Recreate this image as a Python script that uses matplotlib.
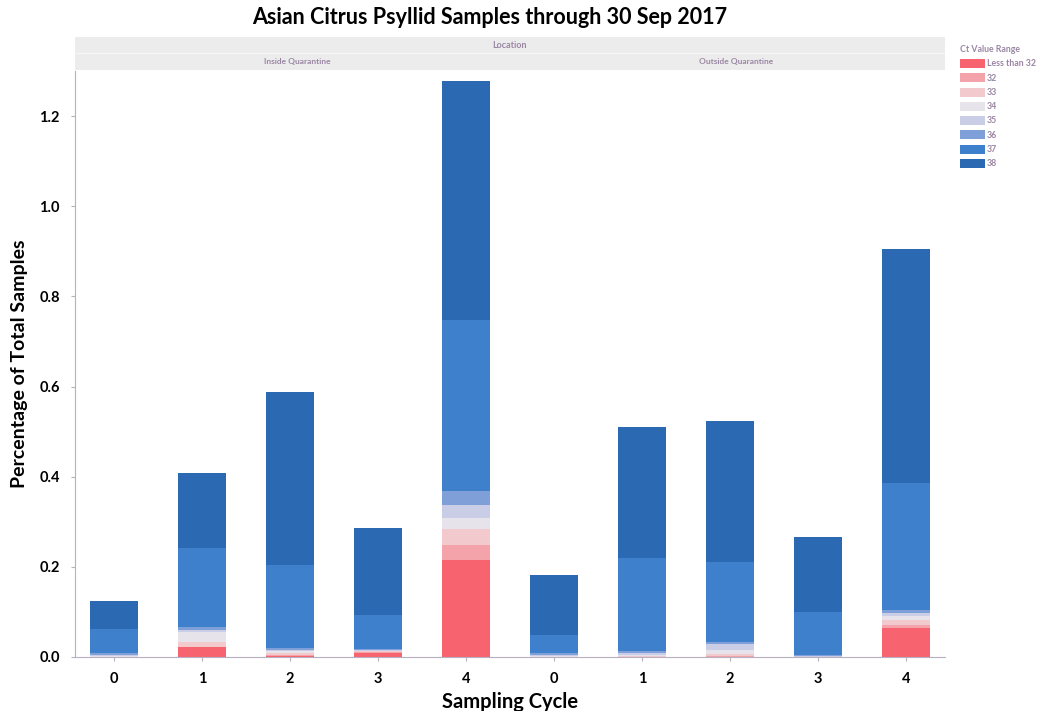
import matplotlib
matplotlib.use('Agg')
import matplotlib.pyplot as plt
from matplotlib.patches import Patch
import numpy as np

plt.rcParams['font.family'] = ['Lato', 'DejaVu Sans']

# sampling cycles, inside quarantine then outside quarantine
cycles = ['0', '1', '2', '3', '4', '0', '1', '2', '3', '4']
locations = ['Inside Quarantine', 'Outside Quarantine']
ct_ranges = ['Less than 32', '32', '33', '34', '35', '36', '37', '38']

# percentage of total samples for each Ct range (bottom to top)
ct_lt32 = [0.000, 0.022, 0.002, 0.008, 0.215, 0.000, 0.000, 0.000, 0.000, 0.064]
ct_32 = [0.000, 0.000, 0.003, 0.003, 0.033, 0.000, 0.000, 0.002, 0.000, 0.008]
ct_33 = [0.000, 0.012, 0.004, 0.002, 0.035, 0.000, 0.002, 0.004, 0.000, 0.010]
ct_34 = [0.002, 0.022, 0.004, 0.001, 0.025, 0.002, 0.003, 0.010, 0.001, 0.008]
ct_35 = [0.003, 0.004, 0.003, 0.001, 0.030, 0.002, 0.004, 0.012, 0.001, 0.007]
ct_36 = [0.003, 0.006, 0.004, 0.002, 0.030, 0.005, 0.005, 0.005, 0.002, 0.007]
ct_37 = [0.055, 0.176, 0.184, 0.076, 0.380, 0.040, 0.206, 0.178, 0.096, 0.282]
ct_38 = [0.061, 0.166, 0.384, 0.193, 0.530, 0.133, 0.290, 0.313, 0.166, 0.519]

series = [ct_lt32, ct_32, ct_33, ct_34, ct_35, ct_36, ct_37, ct_38]
colors = ['#F7636F', '#F3A3A9', '#F2CACE', '#E7E3EA', '#C9CDE5',
          '#7F9FD9', '#3F80CD', '#2B69B3']

fig = plt.figure(figsize=(10.38, 7.11), dpi=100)
ax = fig.add_axes([0.0723, 0.076, 0.838, 0.824])

x = np.arange(len(cycles))
bottom = np.zeros(len(cycles))
for vals, c in zip(series, colors):
    ax.bar(x, vals, 0.545, bottom=bottom, color=c, edgecolor='none')
    bottom += np.array(vals)

ax.set_xlim(-0.443, 9.44)
ax.set_ylim(0, 1.3)
ax.set_yticks([0.0, 0.2, 0.4, 0.6, 0.8, 1.0, 1.2])
ax.set_yticklabels(['0.0', '0.2', '0.4', '0.6', '0.8', '1.0', '1.2'],
                   fontweight='bold', fontsize=10.5)
ax.set_xticks(x)
ax.set_xticklabels(cycles, fontweight='bold', fontsize=10.5)
ax.tick_params(axis='both', length=3, color='#b8b0c0', pad=8)
for s in ['top', 'right']:
    ax.spines[s].set_visible(False)
for s in ['left', 'bottom']:
    ax.spines[s].set_color('#b8b0c0')
ax.set_ylabel('Percentage of Total Samples', fontweight='bold', fontsize=14,
              labelpad=8)
ax.set_xlabel('Sampling Cycle', fontweight='bold', fontsize=14.5, labelpad=4)

fig.suptitle('Asian Citrus Psyllid Samples through 30 Sep 2017',
             x=0.472, y=0.99, fontweight='bold', fontsize=15.5)

# facet header band
hdr = fig.add_axes([0.0723, 0.902, 0.838, 0.046])
hdr.set_facecolor('#ECECEC')
hdr.set_xticks([])
hdr.set_yticks([])
for s in hdr.spines.values():
    s.set_visible(False)
hdr.set_xlim(0, 1)
hdr.set_ylim(0, 1)
lab_col = '#9a86a4'
hdr.axhline(0.5, color='#f6f6f6', lw=1.0)
hdr.text(0.5, 0.75, 'Location', ha='center', va='center', fontsize=6.5,
         color=lab_col, fontweight='bold')
hdr.text(0.255, 0.25, locations[0], ha='center', va='center', fontsize=6,
         color=lab_col, fontweight='bold')
hdr.text(0.76, 0.25, locations[1], ha='center', va='center', fontsize=6,
         color=lab_col, fontweight='bold')

handles = [Patch(facecolor=c, edgecolor='none') for c in colors]
leg = fig.legend(handles, ct_ranges, title='Ct Value Range', loc='upper left',
                 bbox_to_anchor=(0.919, 0.945), frameon=False, fontsize=6.3,
                 title_fontsize=6.3, handlelength=2.9, handleheight=1.2,
                 handletextpad=0.2, labelspacing=0.55, borderpad=0.2,
                 alignment='left')
for t in leg.get_texts():
    t.set_color(lab_col)
    t.set_fontweight('bold')
leg.get_title().set_color(lab_col)
leg.get_title().set_fontweight('bold')

fig.savefig('out.png', dpi=100)
